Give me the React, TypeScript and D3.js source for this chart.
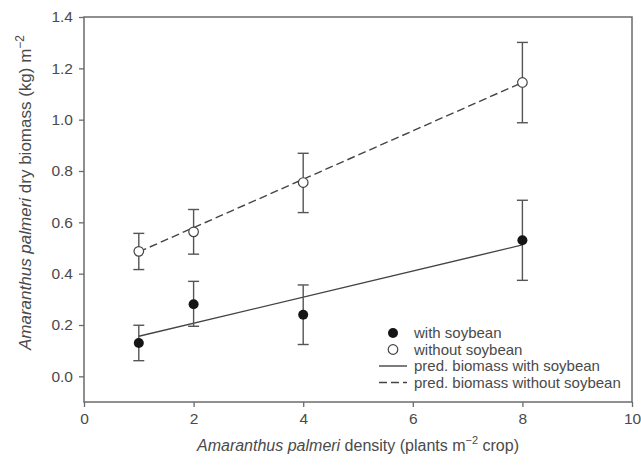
import React, { useRef, useEffect } from "react";
import * as d3 from "d3";

// densities (plants m-2)
const densities = [1, 2, 4, 8];
// with soybean: mean, lower, upper
const withMean = [0.13, 0.281, 0.24, 0.53];
const withLow = [0.061, 0.195, 0.124, 0.374];
const withHigh = [0.199, 0.37, 0.356, 0.686];
// without soybean
const withoutMean = [0.487, 0.563, 0.755, 1.145];
const withoutLow = [0.416, 0.476, 0.638, 0.988];
const withoutHigh = [0.557, 0.65, 0.869, 1.301];
// predicted lines (endpoints at density 1 and 8)
const predX = [1, 8];
const predWith = [0.156, 0.512];
const predWithout = [0.485, 1.145];

const xTicks = [0, 2, 4, 6, 8, 10];
const yTicks = [0, 0.2, 0.4, 0.6, 0.8, 1.0, 1.2, 1.4];
const legendLabels = [
  "with soybean",
  "without soybean",
  "pred. biomass with soybean",
  "pred. biomass without soybean",
];

const App = () => {
  const svgRef = useRef<SVGSVGElement>(null);

  useEffect(() => {
    const svg = d3.select(svgRef.current);
    svg.selectAll("*").remove();

    const left = 84,
      right = 632,
      top = 17,
      bottom = 402;
    const axisColor = "#6b6b6b";
    const textColor = "#4a4a4a";
    const font = "Liberation Sans, Arial, sans-serif";

    const x = d3.scaleLinear().domain([0, 10]).range([left, right]);
    const y = d3.scaleLinear().domain([-0.1, 1.4]).range([bottom, top]);

    // frame
    svg
      .append("rect")
      .attr("x", left)
      .attr("y", top)
      .attr("width", right - left)
      .attr("height", bottom - top)
      .attr("fill", "none")
      .attr("stroke", axisColor)
      .attr("stroke-width", 1.5);

    // x axis
    const xAxis = svg
      .append("g")
      .attr("transform", `translate(0, ${bottom})`)
      .call(d3.axisBottom(x).tickValues(xTicks).tickSize(5).tickPadding(6).tickFormat(d3.format("d")));
    xAxis.select(".domain").remove();
    xAxis.selectAll("line").attr("stroke", axisColor).attr("stroke-width", 1.3);
    xAxis
      .selectAll("text")
      .attr("fill", textColor)
      .style("font-size", "15.5px")
      .style("font-family", font);

    // y axis
    const yAxis = svg
      .append("g")
      .attr("transform", `translate(${left}, 0)`)
      .call(d3.axisLeft(y).tickValues(yTicks).tickSize(5).tickPadding(6).tickFormat(d3.format(".1f")));
    yAxis.select(".domain").remove();
    yAxis.selectAll("line").attr("stroke", axisColor).attr("stroke-width", 1.3);
    yAxis
      .selectAll("text")
      .attr("fill", textColor)
      .style("font-size", "15.5px")
      .style("font-family", font);

    // axis titles
    const xTitle = svg
      .append("text")
      .attr("x", (left + right) / 2)
      .attr("y", 451)
      .attr("text-anchor", "middle")
      .attr("fill", textColor)
      .style("font-size", "16px")
      .style("font-family", font);
    xTitle.append("tspan").style("font-style", "italic").text("Amaranthus palmeri");
    xTitle.append("tspan").text(" density (plants m");
    xTitle.append("tspan").attr("dy", -7).style("font-size", "11px").text("−2");
    xTitle.append("tspan").attr("dy", 7).text(" crop)");

    const yTitle = svg
      .append("text")
      .attr("transform", `translate(31, ${(top + bottom) / 2 - 17}) rotate(-90)`)
      .attr("text-anchor", "middle")
      .attr("fill", textColor)
      .style("font-size", "17px")
      .style("font-family", font);
    yTitle.append("tspan").style("font-style", "italic").text("Amaranthus palmeri");
    yTitle.append("tspan").text(" dry biomass (kg) m");
    yTitle.append("tspan").attr("dy", -7).style("font-size", "12px").text("−2");

    // prediction lines
    const line = d3
      .line<number>()
      .x((d, i) => x(predX[i]))
      .y((d) => y(d));

    svg
      .append("path")
      .datum(predWith)
      .attr("d", line)
      .attr("fill", "none")
      .attr("stroke", "#444")
      .attr("stroke-width", 1.4);

    svg
      .append("path")
      .datum(predWithout)
      .attr("d", line)
      .attr("fill", "none")
      .attr("stroke", "#444")
      .attr("stroke-width", 1.4)
      .attr("stroke-dasharray", "8,4");

    // error bars
    const drawErrors = (low: number[], high: number[]) => {
      const g = svg.append("g").attr("stroke", "#555").attr("stroke-width", 1.4);
      densities.forEach((d, i) => {
        const cx = x(d);
        g.append("line").attr("x1", cx).attr("x2", cx).attr("y1", y(low[i])).attr("y2", y(high[i]));
        g.append("line").attr("x1", cx - 5.5).attr("x2", cx + 5.5).attr("y1", y(low[i])).attr("y2", y(low[i]));
        g.append("line").attr("x1", cx - 5.5).attr("x2", cx + 5.5).attr("y1", y(high[i])).attr("y2", y(high[i]));
      });
    };
    drawErrors(withLow, withHigh);
    drawErrors(withoutLow, withoutHigh);

    // points
    svg
      .append("g")
      .selectAll("circle")
      .data(withMean)
      .join("circle")
      .attr("cx", (d, i) => x(densities[i]))
      .attr("cy", (d) => y(d))
      .attr("r", 5)
      .attr("fill", "#151515");

    svg
      .append("g")
      .selectAll("circle")
      .data(withoutMean)
      .join("circle")
      .attr("cx", (d, i) => x(densities[i]))
      .attr("cy", (d) => y(d))
      .attr("r", 4.8)
      .attr("fill", "white")
      .attr("stroke", "#444")
      .attr("stroke-width", 1.2);

    // legend
    const legend = svg.append("g").attr("transform", "translate(0, 333)");
    legendLabels.forEach((label, i) => {
      const ly = i * 16.5;
      if (i === 0) {
        legend.append("circle").attr("cx", 393).attr("cy", ly).attr("r", 5).attr("fill", "#151515");
      } else if (i === 1) {
        legend
          .append("circle")
          .attr("cx", 393)
          .attr("cy", ly)
          .attr("r", 4.8)
          .attr("fill", "white")
          .attr("stroke", "#444")
          .attr("stroke-width", 1.2);
      } else {
        legend
          .append("line")
          .attr("x1", 379)
          .attr("x2", 407)
          .attr("y1", ly)
          .attr("y2", ly)
          .attr("stroke", "#444")
          .attr("stroke-width", 1.4)
          .attr("stroke-dasharray", i === 3 ? "8,4" : null);
      }
      legend
        .append("text")
        .attr("x", 414)
        .attr("y", ly)
        .attr("dy", "0.35em")
        .attr("fill", textColor)
        .style("font-size", "15px")
        .style("font-family", font)
        .text(label);
    });
  }, []);

  return (
    <svg
      ref={svgRef}
      width={641}
      height={465}
      style={{ position: "absolute", left: 0, top: 0, background: "white" }}
    ></svg>
  );
};

export default App;
